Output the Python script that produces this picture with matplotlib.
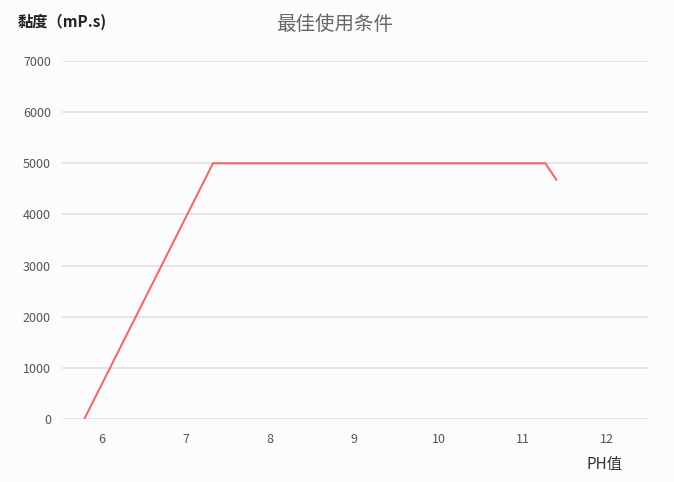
import matplotlib
matplotlib.use("Agg")
import matplotlib.pyplot as plt

plt.rcParams['font.family'] = ['Noto Sans CJK SC', 'DejaVu Sans']

ph = [5.79, 7.32, 11.27, 11.40]
viscosity = [0, 5000, 5000, 4680]
x_ticks = [6, 7, 8, 9, 10, 11, 12]
y_ticks = [0, 1000, 2000, 3000, 4000, 5000, 6000, 7000]

fig = plt.figure(figsize=(6.74, 4.82), dpi=100)
fig.patch.set_facecolor('#fdfcfd')
ax = fig.add_axes([62/674, 1-419/482, (648-62)/674, (419-61)/482])
ax.set_facecolor('#fdfcfd')

ax.plot(ph, viscosity, color='#f26a6a', linewidth=1.5, solid_joinstyle='miter', zorder=3)

ax.set_xlim(5.525, 12.49)
ax.set_ylim(0, 7000)
ax.set_xticks(x_ticks)
ax.set_yticks(y_ticks)
ax.set_xticklabels([str(v) for v in x_ticks])
ax.set_yticklabels([str(v) for v in y_ticks])
ax.yaxis.grid(True, color='#e3e1e4', linewidth=1.2)
ax.xaxis.grid(False)
for s in ax.spines.values():
    s.set_visible(False)
ax.tick_params(axis='both', length=0, labelsize=9, labelcolor='#555555')
ax.tick_params(axis='y', pad=8)
ax.tick_params(axis='x', pad=10)

fig.text(335/674, 1-25/482, '最佳使用条件', ha='center', va='center', fontsize=14, color='#666666')
fig.text(18/674, 1-22/482, '黏度（mP.s)', ha='left', va='center', fontsize=11, color='#222222', fontweight='bold')
fig.text(605/674, 1-465/482, 'PH值', ha='center', va='center', fontsize=11, color='#333333')

fig.savefig('out.png', dpi=100, facecolor=fig.get_facecolor())
